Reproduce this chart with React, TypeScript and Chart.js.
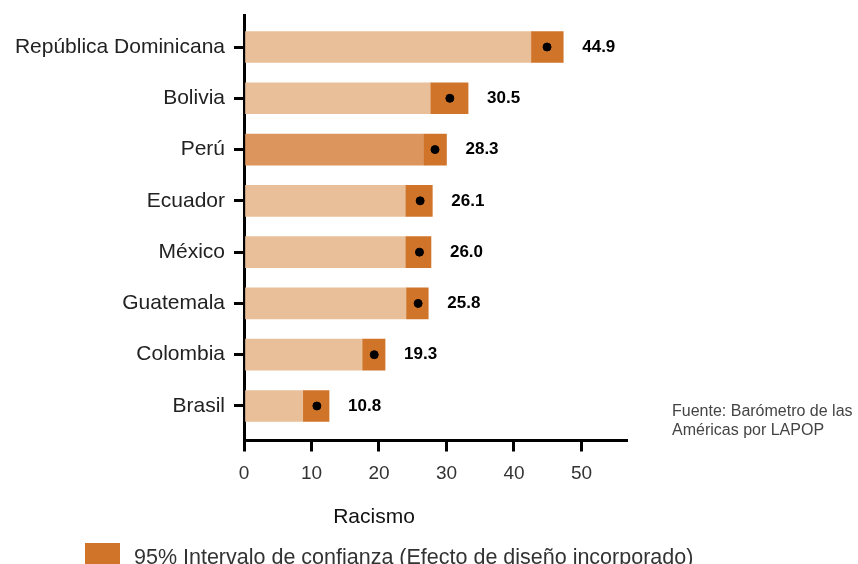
import React, { useEffect, useRef } from "react";
import { Chart, registerables } from "chart.js";

Chart.register(...registerables);

const categories = [
  "República Dominicana",
  "Bolivia",
  "Perú",
  "Ecuador",
  "México",
  "Guatemala",
  "Colombia",
  "Brasil",
];
const means = [44.9, 30.5, 28.3, 26.1, 26.0, 25.8, 19.3, 10.8];
const lowerCI = [42.6, 27.7, 26.7, 24.0, 24.0, 24.1, 17.6, 8.8];
const upperCI = [47.3, 33.2, 30.0, 27.9, 27.7, 27.3, 20.9, 12.6];
const xTicks = [0, 10, 20, 30, 40, 50];
const highlighted = "Perú";

const FONT = "'Liberation Sans', Arial, Helvetica, sans-serif";
const LIGHT = "#E8BF99";
const HILITE = "#DB955D";
const CI = "#D0742A";

const valueLabels = {
  id: "valueLabels",
  afterDatasetsDraw(chart: any) {
    const { ctx, scales } = chart;
    ctx.save();
    ctx.font = `bold 17px ${FONT}`;
    ctx.fillStyle = "#000";
    ctx.textAlign = "left";
    ctx.textBaseline = "middle";
    means.forEach((m, i) => {
      const x = scales.x.getPixelForValue(upperCI[i]) + 19;
      const y = scales.y.getPixelForValue(i);
      ctx.fillText(m.toFixed(1), x, y);
    });
    ctx.restore();
  },
};

export default function App() {
  const ref = useRef<HTMLCanvasElement | null>(null);

  useEffect(() => {
    if (!ref.current) return;
    Chart.defaults.font.family = FONT;
    const chart = new Chart(ref.current, {
      type: "bar",
      data: {
        datasets: [
          {
            type: "scatter",
            data: means.map((m, i) => ({ x: m, y: i })),
            backgroundColor: "#000",
            borderColor: "#000",
            pointRadius: 4,
            pointHoverRadius: 4,
            order: 0,
          } as any,
          {
            data: categories.map((_, i) => ({ y: i, x: [lowerCI[i], upperCI[i]] })),
            backgroundColor: CI,
            barThickness: 31,
            grouped: false,
            borderWidth: 0,
            order: 1,
          } as any,
          {
            data: categories.map((_, i) => ({ y: i, x: [0, lowerCI[i]] })),
            backgroundColor: categories.map((c) => (c === highlighted ? HILITE : LIGHT)),
            barThickness: 31,
            grouped: false,
            borderWidth: 0,
            order: 2,
          } as any,
        ],
      },
      options: {
        indexAxis: "y",
        animation: false,
        responsive: false,
        maintainAspectRatio: false,
        layout: { padding: { top: 15, right: 232, left: 0, bottom: 0 } },
        plugins: {
          legend: { display: false },
          tooltip: { enabled: false },
          title: { display: false },
        },
        scales: {
          x: {
            type: "linear",
            min: 0,
            max: 56.6,
            offset: false,
            afterFit: (s: any) => {
              s.height = 123.5;
              s.paddingLeft = 0;
              s.paddingRight = 0;
            },
            afterBuildTicks: (s: any) => {
              s.ticks = xTicks.map((v) => ({ value: v }));
            },
            ticks: {
              font: { size: 19 },
              color: "#333",
              padding: 11,
              maxRotation: 0,
              callback: (v: any) => String(v),
            },
            grid: {
              display: true,
              offset: false,
              drawOnChartArea: false,
              drawTicks: true,
              tickLength: 11,
              tickWidth: 3,
              tickColor: "#000",
              color: "#000",
              lineWidth: 3,
            },
            border: { display: true, color: "#000", width: 3 },
          },
          y: {
            type: "linear",
            reverse: true,
            offset: false,
            min: -0.624,
            max: 7.673,
            afterFit: (s: any) => {
              s.width = 244;
              s.paddingTop = 0;
              s.paddingBottom = 0;
            },
            afterBuildTicks: (s: any) => {
              s.ticks = categories.map((_, i) => ({ value: i }));
            },
            ticks: {
              font: { size: 21 },
              color: "#222",
              padding: 9,
              autoSkip: false,
              callback: (v: any) => categories[Math.round(v)] ?? "",
            },
            grid: {
              display: true,
              offset: false,
              drawOnChartArea: false,
              drawTicks: true,
              tickLength: 10,
              tickWidth: 3,
              tickColor: "#000",
              color: "#000",
              lineWidth: 3,
            },
            border: { display: true, color: "#000", width: 3 },
          },
        },
      } as any,
      plugins: [valueLabels],
    });
    return () => chart.destroy();
  }, []);

  return (
    <div
      style={{
        position: "absolute",
        left: 0,
        top: 0,
        width: 858,
        height: 564,
        overflow: "hidden",
        background: "#fff",
        fontFamily: FONT,
      }}
    >
      <canvas ref={ref} width={858} height={564} style={{ position: "absolute", left: 0, top: 0 }} />
      <div
        style={{
          position: "absolute",
          left: 274,
          top: 504.5,
          width: 200,
          textAlign: "center",
          fontSize: 21,
          lineHeight: "21px",
          color: "#111",
        }}
      >
        Racismo
      </div>
      <div
        style={{
          position: "absolute",
          left: 672,
          top: 401,
          fontSize: 16,
          lineHeight: "19px",
          color: "#444",
          whiteSpace: "nowrap",
        }}
      >
        Fuente: Barómetro de las
        <br />
        Américas por LAPOP
      </div>
      <div
        style={{
          position: "absolute",
          left: 85,
          top: 543,
          width: 35,
          height: 28,
          background: CI,
        }}
      />
      <div
        style={{
          position: "absolute",
          left: 134,
          top: 544.5,
          fontSize: 21.5,
          lineHeight: "24px",
          color: "#333",
          whiteSpace: "nowrap",
        }}
      >
        95% Intervalo de confianza (Efecto de diseño incorporado)
      </div>
    </div>
  );
}
